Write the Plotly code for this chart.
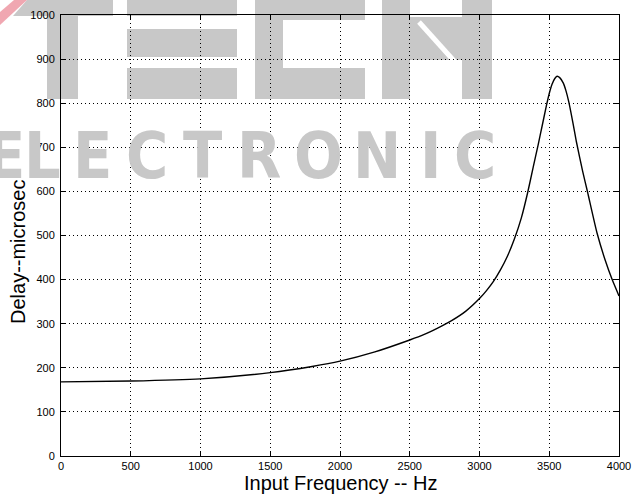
import plotly.graph_objects as go

# ---- data ----
freq_hz = [0, 500, 1000, 1500, 1800, 2000, 2250, 2500, 2600, 2700, 2800, 2900, 3000,
           3050, 3100, 3150, 3200, 3250, 3300, 3345, 3385, 3420, 3450, 3480, 3500,
           3520, 3540, 3556, 3575, 3600, 3620, 3640, 3670, 3695, 3740, 3775, 3843,
           3900, 3951, 4000]
delay_us = [168, 170, 175, 189, 203, 215, 236, 263, 275, 290, 307, 328, 357,
            375, 396, 422, 453, 492, 540, 597, 655, 705, 750, 795, 822,
            843, 856, 861, 858, 846, 828, 803, 755, 712, 645, 598, 505,
            445, 400, 363]
x_ticks = [0, 500, 1000, 1500, 2000, 2500, 3000, 3500, 4000]
y_ticks = [0, 100, 200, 300, 400, 500, 600, 700, 800, 900, 1000]
x_title = "Input Frequency -- Hz"
y_title = "Delay--microsec"
watermark_word = "ELECTRONIC"

W, H = 634, 495
ML, MR, MT, MB = 61, 15, 15, 39
PW, PH = W - ML - MR, H - MT - MB


def px(x):
    return (x - ML) / PW


def py(y):
    return (H - MB - y) / PH


def poly_path(pts):
    return "M " + " L ".join(f"{px(a):.5f},{py(b):.5f}" for a, b in pts) + " Z"


fig = go.Figure()
fig.add_trace(go.Scatter(x=freq_hz, y=delay_us, mode="lines",
                         line=dict(color="black", width=1.4, shape="spline", smoothing=0.6),
                         showlegend=False, hoverinfo="skip"))

GRAY = "rgb(200,200,200)"
shapes = []
# "TECH" logo blocks (pixel outlines)
blocks = [
    [(27, 0), (113, 0), (113, 16), (13, 16)],          # T bar
    [(47, 0), (78, 0), (78, 99), (47, 99)],            # T stem
    [(127, 0), (237, 0), (237, 16), (127, 16)],        # E bars
    [(127, 29), (237, 29), (237, 57), (127, 57)],
    [(127, 68), (237, 68), (237, 99), (127, 99)],
    [(255, 0), (283, 0), (283, 99), (255, 99)],        # C spine
    [(255, 0), (365, 0), (365, 20), (255, 20)],        # C top
    [(255, 68), (365, 68), (365, 99), (255, 99)],      # C bottom
    [(382, 0), (410, 0), (410, 99), (382, 99)],        # H left
    [(462, 0), (492, 0), (492, 99), (462, 99)],        # H right
    [(410, 17), (462, 17), (462, 60), (410, 60)],      # H middle
]
for b in blocks:
    shapes.append(dict(type="path", xref="paper", yref="paper", path=poly_path(b),
                       fillcolor=GRAY, line=dict(width=0), layer="below"))
shapes.append(dict(type="line", xref="paper", yref="paper",
                   x0=px(419), y0=py(22), x1=px(455), y1=py(62),
                   line=dict(color="white", width=5), layer="below"))
shapes.append(dict(type="path", xref="paper", yref="paper",
                   path=poly_path([(0, 12), (14, 0), (27, 0), (0, 25)]),
                   fillcolor="rgba(232,120,135,0.65)", line=dict(width=0), layer="below"))

annotations = []
letter_x = [5, 42, 92, 147, 202, 259, 318, 377, 430, 475]
for ch, cx in zip(watermark_word, letter_x):
    annotations.append(dict(text=f"<b>{ch}</b>", xref="paper", yref="paper",
                            x=px(cx), y=py(156), xanchor="center", yanchor="middle",
                            showarrow=False,
                            font=dict(family="DejaVu Sans Condensed, Liberation Sans, Arial",
                                      size=64, color=GRAY)))

title_font = dict(family="Liberation Sans, Arial", size=20, color="black")
annotations.append(dict(text=x_title, xref="paper", yref="paper", x=px(340), y=py(483),
                        xanchor="center", yanchor="middle", showarrow=False, font=title_font))
annotations.append(dict(text=y_title, xref="paper", yref="paper", x=px(18), y=py(252),
                        xanchor="center", yanchor="middle", textangle=-90,
                        showarrow=False, font=title_font))

axis_common = dict(showgrid=True, gridcolor="black", gridwidth=1, griddash="1px,3px",
                   ticks="inside", ticklen=5, tickcolor="black", tickwidth=1,
                   showline=True, linecolor="black", linewidth=1, mirror="ticks",
                   zeroline=False,
                   tickfont=dict(family="Liberation Sans, Arial", size=11, color="black"))

fig.update_xaxes(range=[0, 4000], tickvals=x_ticks, ticktext=[str(t) for t in x_ticks],
                 **axis_common)
fig.update_yaxes(range=[0, 1000], tickvals=y_ticks, ticktext=[str(t) for t in y_ticks],
                 ticklabelstandoff=3, **axis_common)

fig.update_layout(width=W, height=H, margin=dict(l=ML, r=MR, t=MT, b=MB, autoexpand=False),
                  paper_bgcolor="white", plot_bgcolor="white",
                  shapes=shapes, annotations=annotations, showlegend=False)

fig.write_html("out.html", config={"displayModeBar": False},
               post_script="document.body.style.margin='0px';"
                           "document.documentElement.style.overflow='hidden';")
